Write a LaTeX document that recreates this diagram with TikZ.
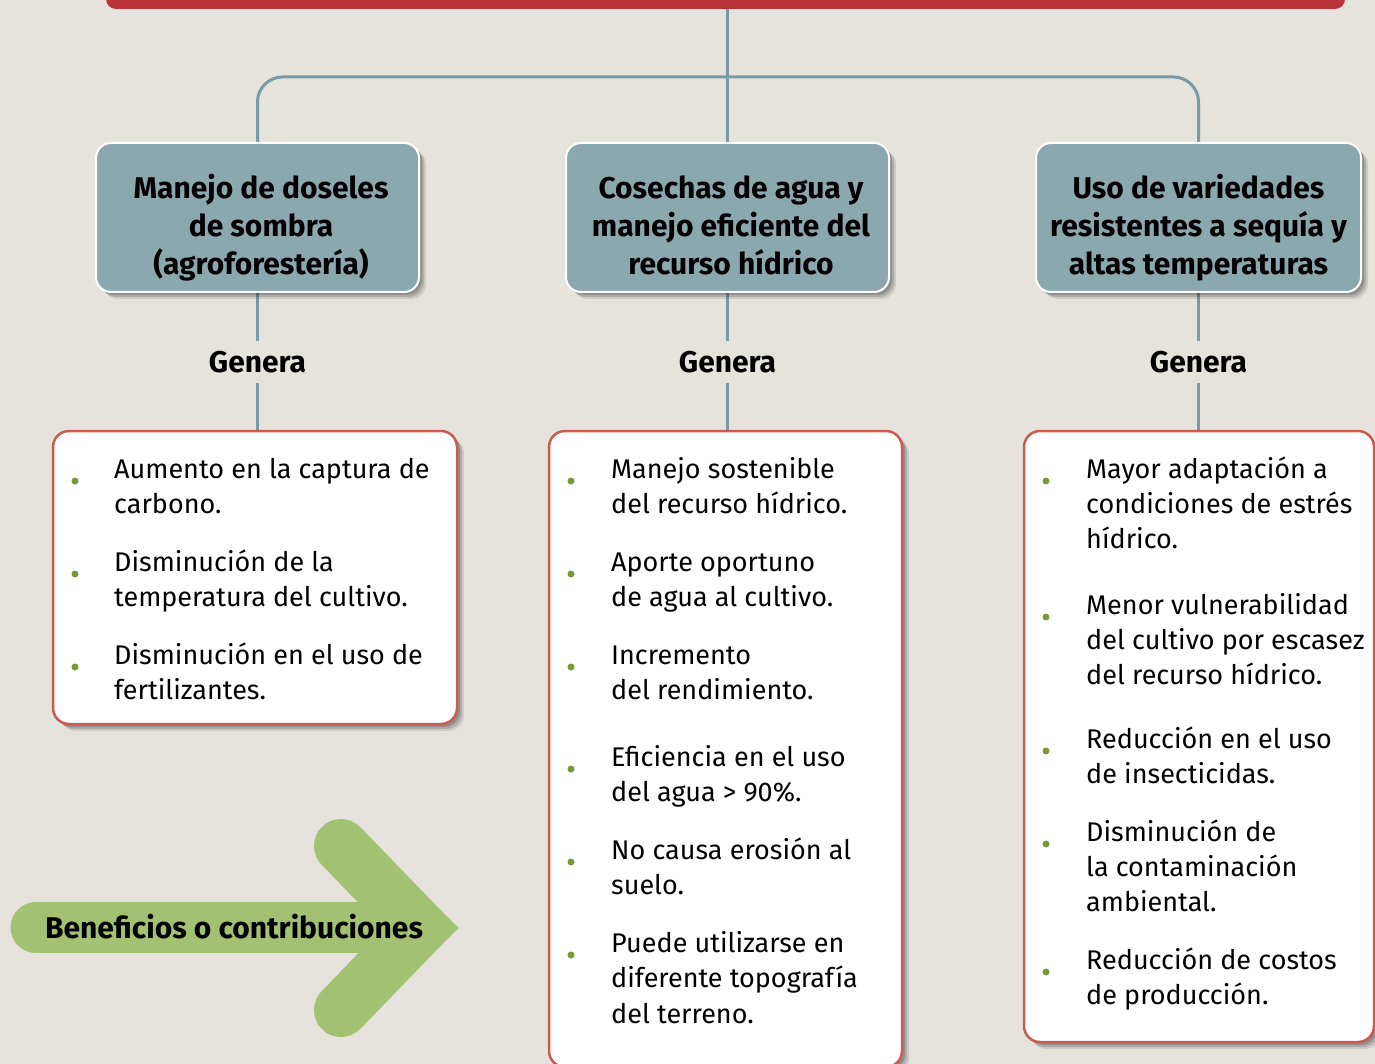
\documentclass[tikz,border=0pt]{standalone}
\usepackage{fontspec}
\setmainfont{Fira Sans}
\usetikzlibrary{shadows,backgrounds}
\definecolor{bg}{HTML}{E6E3DC}
\definecolor{barred}{HTML}{B93338}
\definecolor{conncol}{HTML}{7A9BA5}
\definecolor{headfill}{HTML}{8BA8AF}
\definecolor{boxred}{HTML}{CB5A50}
\definecolor{dotgreen}{HTML}{7A9A3A}
\definecolor{arrowgreen}{HTML}{A3C172}
\begin{document}
\begin{tikzpicture}[x=1pt,y=-1pt,
  connector/.style={draw=conncol, line width=3pt},
  softshadow/.style={
    drop shadow={shadow xshift=7pt, shadow yshift=-7pt, opacity=0.10, fill=black},
    drop shadow={shadow xshift=5pt, shadow yshift=-5pt, opacity=0.14, fill=black},
    drop shadow={shadow xshift=3pt, shadow yshift=-3pt, opacity=0.18, fill=black}},
  headbox/.style={draw=white, line width=2pt, fill=headfill, rounded corners=15pt, softshadow},
  contbox/.style={draw=boxred, line width=2.5pt, fill=white, rounded corners=16pt, softshadow},
  hd/.style={anchor=base, inner sep=0pt, font=\fontsize{30}{38}\selectfont\bfseries},
  tx/.style={anchor=base west, inner sep=0pt, font=\fontsize{27}{35}\selectfont},
  genera/.style={inner sep=0pt, minimum height=42pt, font=\fontsize{30}{38}\selectfont\bfseries},
  dot/.style={circle, fill=dotgreen, inner sep=0pt, minimum size=7pt},
  greenfill/.style={fill=arrowgreen}
]
\useasboundingbox (0,0) rectangle (1375,1064);
\begin{scope}[on background layer]
  \fill[bg] (0,0) rectangle (1375,1064);
\end{scope}

% top bar
\fill[barred, rounded corners=10pt] (106,-30) rectangle (1345,9);
\coordinate (bartop) at (727,9);
\coordinate (hub) at (727,77);

% header boxes
\node[headbox, minimum width=323pt, minimum height=149pt] (h1) at (257.5,217.5) {};
\node[headbox, minimum width=323pt, minimum height=149pt] (h2) at (727.5,217.5) {};
\node[headbox, minimum width=325pt, minimum height=149pt] (h3) at (1198.5,217.5) {};

\node[hd] (h1a) at (261,199) {Manejo de doseles};
\node[hd] (h1b) at (261,237) {de sombra};
\node[hd] (h1c) at (261,275) {(agroforestería)};
\node[hd] (h2a) at (731,199) {Cosechas de agua y};
\node[hd] (h2b) at (731,237) {manejo eficiente del};
\node[hd] (h2c) at (731,275) {recurso hídrico};
\node[hd] (h3a) at (1198.5,199) {Uso de variedades};
\node[hd] (h3b) at (1198.5,237) {resistentes a sequía y};
\node[hd] (h3c) at (1198.5,275) {altas temperaturas};

% Genera labels
\node[genera] (g1) at (257.5,362) {Genera};
\node[genera] (g2) at (727.5,362) {Genera};
\node[genera] (g3) at (1198.5,362) {Genera};

% content boxes
\node[contbox, minimum width=404pt, minimum height=293pt] (c1) at (255,577.5) {};
\node[contbox, minimum width=353pt, minimum height=636pt] (c2) at (725.5,749) {};
\node[contbox, minimum width=350pt, minimum height=611pt] (c3) at (1199,736.5) {};

% connectors
\begin{scope}[on background layer]
  \draw[connector] (h2.north |- bartop) -- (h2.north);
  \draw[connector, rounded corners=25pt] (h1.north) -- (h1.north |- hub) -- (h3.north |- hub) -- (h3.north);
  \draw[connector] (h1.south) -- (g1.north);
  \draw[connector] (h2.south) -- (g2.north);
  \draw[connector] (h3.south) -- (g3.north);
  \draw[connector] (g1.south) -- (g1.south |- c1.north);
  \draw[connector] (g2.south) -- (g2.south |- c2.north);
  \draw[connector] (g3.south) -- (g3.south |- c3.north);
\end{scope}

% column 1
\node[dot] (d11) at (75,481) {};
\node[tx] (t11a) at (114,478) {Aumento en la captura de};
\node[tx] (t11b) at (114,513) {carbono.};
\node[dot] (d12) at (75,574) {};
\node[tx] (t12a) at (114,571) {Disminución de la};
\node[tx] (t12b) at (114,606) {temperatura del cultivo.};
\node[dot] (d13) at (75,667) {};
\node[tx] (t13a) at (114,664) {Disminución en el uso de};
\node[tx] (t13b) at (114,699) {fertilizantes.};

% column 2
\node[dot] (d21) at (571,481) {};
\node[tx] (t21a) at (611,478) {Manejo sostenible};
\node[tx] (t21b) at (611,513) {del recurso hídrico.};
\node[dot] (d22) at (571,574) {};
\node[tx] (t22a) at (611,571) {Aporte oportuno};
\node[tx] (t22b) at (611,606) {de agua al cultivo.};
\node[dot] (d23) at (571,667) {};
\node[tx] (t23a) at (611,664) {Incremento};
\node[tx] (t23b) at (611,699) {del rendimiento.};
\node[dot] (d24) at (571,769) {};
\node[tx] (t24a) at (611,766) {Eficiencia en el uso};
\node[tx] (t24b) at (611,801) {del agua > 90\%.};
\node[dot] (d25) at (571,862) {};
\node[tx] (t25a) at (611,859) {No causa erosión al};
\node[tx] (t25b) at (611,894) {suelo.};
\node[dot] (d26) at (571,955) {};
\node[tx] (t26a) at (611,952) {Puede utilizarse en};
\node[tx] (t26b) at (611,987.5) {diferente topografía};
\node[tx] (t26c) at (611,1023) {del terreno.};

% column 3
\node[dot] (d31) at (1046,481) {};
\node[tx] (t31a) at (1086,478) {Mayor adaptación a};
\node[tx] (t31b) at (1086,513) {condiciones de estrés};
\node[tx] (t31c) at (1086,548) {hídrico.};
\node[dot] (d32) at (1046,617) {};
\node[tx] (t32a) at (1086,614) {Menor vulnerabilidad};
\node[tx] (t32b) at (1086,649) {del cultivo por escasez};
\node[tx] (t32c) at (1086,684) {del recurso hídrico.};
\node[dot] (d33) at (1046,751) {};
\node[tx] (t33a) at (1086,748) {Reducción en el uso};
\node[tx] (t33b) at (1086,783) {de insecticidas.};
\node[dot] (d34) at (1046,844) {};
\node[tx] (t34a) at (1086,841) {Disminución de};
\node[tx] (t34b) at (1086,876) {la contaminación};
\node[tx] (t34c) at (1086,911) {ambiental.};
\node[dot] (d35) at (1046,972) {};
\node[tx] (t35a) at (1086,969) {Reducción de costos};
\node[tx] (t35b) at (1086,1004) {de producción.};

% green arrow
\fill[greenfill] (36,902) rectangle (400,953);
\fill[greenfill] (36,927.5) circle[radius=25.5pt];
\draw[draw=arrowgreen, line width=54pt] (341,846) -- (438.9,947.1);
\draw[draw=arrowgreen, line width=54pt] (341,1010) -- (438.9,908.9);
\fill[greenfill] (341,846) circle[radius=27pt];
\fill[greenfill] (341,1010) circle[radius=27pt];
\node[hd] (ben) at (234,938) {Beneficios o contribuciones};
\end{tikzpicture}
\end{document}
